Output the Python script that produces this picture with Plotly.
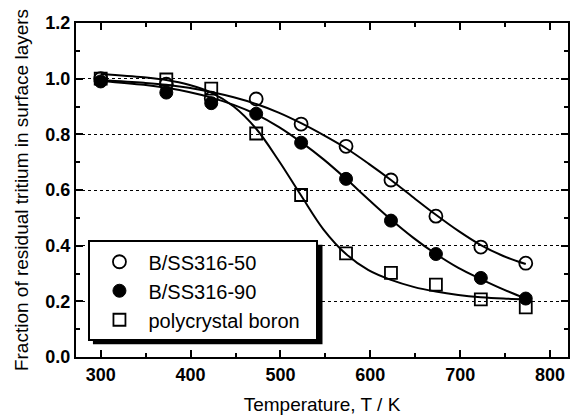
import plotly.graph_objects as go

# ---- data ----
temps = [300, 373, 423, 473, 523, 573, 623, 673, 723, 773]
ss50 = [1.00, 0.98, 0.93, 0.927, 0.837, 0.757, 0.636, 0.506, 0.395, 0.337]
ss90 = [0.99, 0.95, 0.912, 0.874, 0.770, 0.640, 0.490, 0.370, 0.284, 0.210]
boron = [1.00, 0.997, 0.964, 0.803, 0.582, 0.372, 0.302, 0.260, 0.207, 0.178]

# fitted curves
fit_t = [300, 348, 373, 398, 423, 448, 473, 498, 523, 548, 573, 598, 623, 648, 673, 698, 723, 748, 773]
fit_ss50 = [0.995, 0.985, 0.978, 0.967, 0.952, 0.933, 0.909, 0.878, 0.840, 0.797, 0.750, 0.695, 0.636, 0.573, 0.511, 0.453, 0.402, 0.363, 0.334]
fit_ss90 = [0.992, 0.978, 0.967, 0.952, 0.932, 0.906, 0.872, 0.827, 0.772, 0.710, 0.640, 0.566, 0.494, 0.428, 0.370, 0.320, 0.280, 0.243, 0.210]
fit_boron = [1.017, 1.005, 0.995, 0.978, 0.950, 0.900, 0.820, 0.706, 0.580, 0.458, 0.370, 0.312, 0.277, 0.252, 0.235, 0.223, 0.215, 0.210, 0.207]

names = ["B/SS316-50", "B/SS316-90", "polycrystal boron"]

FONT = "Liberation Sans, Arial, sans-serif"
PAD = "\u00a0\u00a0"

fig = go.Figure()

for fy in (fit_ss50, fit_ss90, fit_boron):
    fig.add_trace(go.Scatter(x=fit_t, y=fy, mode="lines", line=dict(color="black", width=2, shape="spline"),
                             showlegend=False, hoverinfo="skip"))

fig.add_trace(go.Scatter(x=temps, y=ss50, mode="markers", name=names[0] + PAD,
                         marker=dict(symbol="circle-open", size=13, color="black", line=dict(width=1.8, color="black"))))
fig.add_trace(go.Scatter(x=temps, y=ss90, mode="markers", name=names[1] + PAD,
                         marker=dict(symbol="circle", size=13, color="black", line=dict(width=1, color="black"))))
fig.add_trace(go.Scatter(x=temps, y=boron, mode="markers", name=names[2] + PAD,
                         marker=dict(symbol="square-open", size=12, color="black", line=dict(width=1.8, color="black"))))

W, H = 571, 415
ml, mr, mt, mb = 76, 1, 23, 53
pw, ph = W - ml - mr, H - mt - mb


def px2paper(xp, yp):
    return (xp - ml) / pw, (H - mb - yp) / ph


x0, y0 = px2paper(93, 248)
x1, y1 = px2paper(323.5, 349)
fig.add_shape(type="rect", xref="paper", yref="paper", x0=x0, y0=y0, x1=x1, y1=y1,
              fillcolor="black", line=dict(width=0), layer="above")

lx, ly = px2paper(88.5, 243.5)

fig.update_layout(
    width=W, height=H,
    margin=dict(l=ml, r=mr, t=mt, b=mb),
    plot_bgcolor="white", paper_bgcolor="white",
    font=dict(family=FONT, color="black", size=18),
    showlegend=True,
    legend=dict(x=lx, y=ly, xanchor="left", yanchor="top", bgcolor="white",
                bordercolor="black", borderwidth=2, font=dict(size=20, family=FONT),
                itemwidth=48, tracegroupgap=0),
    xaxis=dict(
        range=[272.5, 820], dtick=100, tick0=300, ticks="inside", ticklen=7, tickwidth=1.5,
        tickcolor="black", showline=True, linewidth=2, linecolor="black", mirror="ticks",
        showgrid=False, zeroline=False,
        tickfont=dict(size=18, weight="bold", family=FONT),
        minor=dict(dtick=50, ticks="inside", ticklen=4, tickwidth=1.5, tickcolor="black", showgrid=False),
        title=dict(text="Temperature, T / K", font=dict(size=19, family=FONT), standoff=16),
    ),
    yaxis=dict(
        range=[0, 1.2], dtick=0.2, tick0=0, ticks="inside", ticklen=7, tickwidth=1.5,
        tickcolor="black", showline=True, linewidth=2, linecolor="black", mirror="ticks",
        showgrid=True, gridcolor="black", gridwidth=1, griddash="dot", zeroline=False,
        tickformat=".1f",
        tickfont=dict(size=18, weight="bold", family=FONT),
        minor=dict(dtick=0.1, ticks="inside", ticklen=4, tickwidth=1.5, tickcolor="black", showgrid=False),
        title=dict(text="Fraction of residual tritium in surface layers", font=dict(size=19, family=FONT), standoff=12),
    ),
)

fig.write_html("out.html")
